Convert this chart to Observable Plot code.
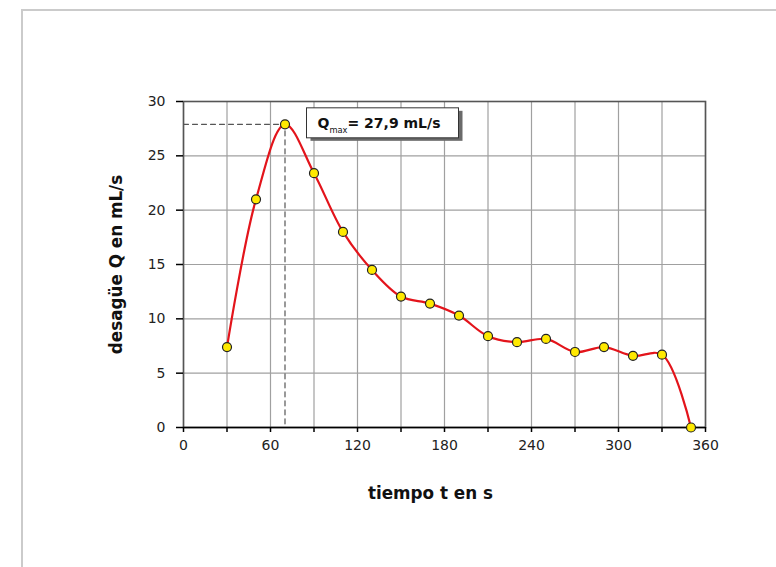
<!DOCTYPE html>
<html>
<head>
<meta charset="utf-8">
<script src="https://cdn.jsdelivr.net/npm/d3@7"></script>
<script src="https://cdn.jsdelivr.net/npm/@observablehq/plot@0.6"></script>
<style>
  html, body { margin: 0; padding: 0; background: #fff; overflow: hidden; }
  #wrap { position: relative; width: 776px; height: 567px; }
  #border { position: absolute; left: 21px; top: 9px; width: 820px; height: 620px; border: 2px solid #cbcbcb; box-sizing: border-box; }
  #chart { position: absolute; left: 0; top: 0; }
  svg { font-family: "DejaVu Sans", sans-serif; }
</style>
</head>
<body>
<div id="wrap"><div id="border"></div><div id="chart"></div></div>
<script>
const tiempo = [30, 50, 70, 90, 110, 130, 150, 170, 190, 210, 230, 250, 270, 290, 310, 330, 350];
const desague = [7.4, 21.0, 27.9, 23.4, 18.0, 14.5, 12.05, 11.4, 10.3, 8.4, 7.85, 8.15, 6.95, 7.4, 6.6, 6.7, 0];
const xTicks = [0, 30, 60, 90, 120, 150, 180, 210, 240, 270, 300, 330, 360];
const yTicks = [0, 5, 10, 15, 20, 25, 30];
const xLabel = "tiempo t en s";
const yLabel = "desagüe Q en mL/s";
const peakT = 70, peakQ = 27.9;
const annoSub = "max";
const annoText = "= 27,9 mL/s";

const data = tiempo.map((t, i) => ({t, q: desague[i]}));
const peakGuide = [{t: 0, q: peakQ}, {t: peakT, q: peakQ}, {t: peakT, q: 0}];

const plot = Plot.plot({
  width: 776,
  height: 567,
  marginLeft: 183,
  marginRight: 71,
  marginTop: 101,
  marginBottom: 140,
  style: {fontFamily: "DejaVu Sans, sans-serif"},
  x: {domain: [0, 360]},
  y: {domain: [0, 30]},
  marks: [
    Plot.gridX(xTicks, {stroke: "#a0a0a0", strokeOpacity: 1, strokeWidth: 1.2}),
    Plot.gridY(yTicks, {stroke: "#a0a0a0", strokeOpacity: 1, strokeWidth: 1.2}),
    Plot.frame({stroke: "#555", strokeWidth: 1.6}),
    Plot.ruleY([0], {stroke: "#000", strokeWidth: 1.5}),
    Plot.axisX(xTicks, {tickSize: 5, tickPadding: 8, fontSize: 14, tickFormat: d => d % 60 === 0 ? d : "", label: null, stroke: "#000", strokeWidth: 1.5, color: "#222"}),
    Plot.axisY(yTicks, {tickSize: 7, tickPadding: 11, fontSize: 14, label: null, stroke: "#000", strokeWidth: 1.5, color: "#222"}),
    Plot.line(peakGuide, {x: "t", y: "q", stroke: "#555", strokeWidth: 1.2, strokeDasharray: "5,4"}),
    Plot.line(data, {x: "t", y: "q", curve: "catmull-rom", stroke: "#e3141b", strokeWidth: 2.2}),
    Plot.dot(data, {x: "t", y: "q", r: 4.5, fill: "#ffe900", stroke: "#222", strokeWidth: 1.2}),
    Plot.text([yLabel], {frameAnchor: "left", dx: -67, rotate: -90, textAnchor: "middle", lineAnchor: "middle", fontSize: 16.8, fontWeight: "bold", fill: "#111"}),
    Plot.text([xLabel], {frameAnchor: "bottom", dx: -14, dy: 66, textAnchor: "middle", lineAnchor: "middle", fontSize: 16.8, fontWeight: "bold", fill: "#111"})
  ]
});
document.getElementById("chart").appendChild(plot);

// annotation box attached to the peak point via the plot's scales
const sx = plot.scale("x"), sy = plot.scale("y");
const px = sx.apply(peakT), py = sy.apply(peakQ);
const svg = d3.select(plot);
const g = svg.append("g");
const bx = px + 22, bw = 152, bh = 30, by = py - 16;
g.append("rect").attr("x", bx + 4).attr("y", by + 3).attr("width", bw).attr("height", bh).attr("fill", "#6a6a6a");
g.append("rect").attr("x", bx).attr("y", by).attr("width", bw).attr("height", bh).attr("fill", "#fff").attr("stroke", "#333").attr("stroke-width", 1);
const t = g.append("text").attr("x", bx + 11).attr("y", by + 20).attr("text-anchor", "start")
  .attr("font-size", 14).attr("font-weight", "bold").attr("fill", "#111");
t.append("tspan").text("Q");
t.append("tspan").attr("font-size", 8.3).attr("font-weight", "normal").attr("dy", 5).text(annoSub);
t.append("tspan").attr("dy", -5).text(annoText);
</script>
</body>
</html>
